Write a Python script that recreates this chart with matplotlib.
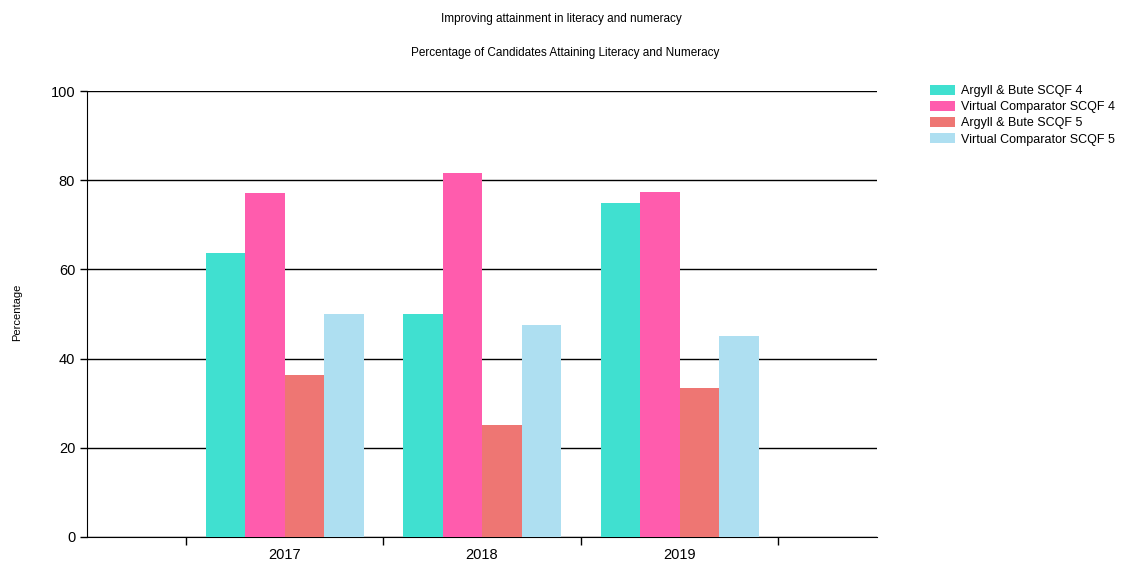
import matplotlib.pyplot as plt
import numpy as np

plt.rcParams['font.family'] = ['Liberation Sans', 'DejaVu Sans']

years = ['2017', '2018', '2019']
series = ['Argyll & Bute SCQF 4', 'Virtual Comparator SCQF 4',
          'Argyll & Bute SCQF 5', 'Virtual Comparator SCQF 5']
ab_scqf4 = [63.8, 50.0, 75.0]
vc_scqf4 = [77.1, 81.6, 77.4]
ab_scqf5 = [36.3, 25.1, 33.4]
vc_scqf5 = [50.0, 47.5, 45.1]
colors = ['#40E0D0', '#FF5CAD', '#EE7673', '#AEDFF1']

fig = plt.figure(figsize=(11.23, 5.63), dpi=100)
ax = fig.add_axes([0.0775, 0.0462, 0.7035, 0.792])

x = np.arange(1, len(years) + 1)
w = 0.2
values = [ab_scqf4, vc_scqf4, ab_scqf5, vc_scqf5]
for i, (vals, lab, c) in enumerate(zip(values, series, colors)):
    ax.bar(x + (i - 1.5) * w, vals, width=w, color=c, label=lab, zorder=3)

ax.set_xlim(0, 4)
ax.set_ylim(0, 100)
ax.set_yticks(np.arange(0, 101, 20))
ax.yaxis.grid(True, color='black', linewidth=1, zorder=0)
ax.set_axisbelow(True)

# category labels centred, tick marks between categories
ax.set_xticks(x)
ax.set_xticklabels(years, fontsize=10.5)
ax.tick_params(axis='x', length=0, pad=8)
ax.set_xticks(np.arange(0.5, 4, 1), minor=True)
ax.tick_params(axis='x', which='minor', length=6, width=1, color='black')
ax.tick_params(axis='y', labelsize=10.5, length=5, width=1, color='black')

ax.spines['right'].set_visible(False)
ax.spines['top'].set_visible(False)
ax.spines['left'].set_color('black')
ax.spines['bottom'].set_color('black')

fig.text(0.0155, 0.445, 'Percentage', rotation=90, ha='center', va='center', fontsize=8)
fig.text(0.5, 0.966, 'Improving attainment in literacy and numeracy', ha='center', va='center', fontsize=8.5)
fig.text(0.503, 0.905, 'Percentage of Candidates Attaining Literacy and Numeracy', ha='center', va='center', fontsize=8.5)

fig.legend(loc='upper left', bbox_to_anchor=(0.828, 0.849), frameon=False, fontsize=9,
           handlelength=2.0, handleheight=0.8, handletextpad=0.5, labelspacing=0.32,
           borderpad=0, borderaxespad=0)

plt.savefig('out.png', dpi=100)
